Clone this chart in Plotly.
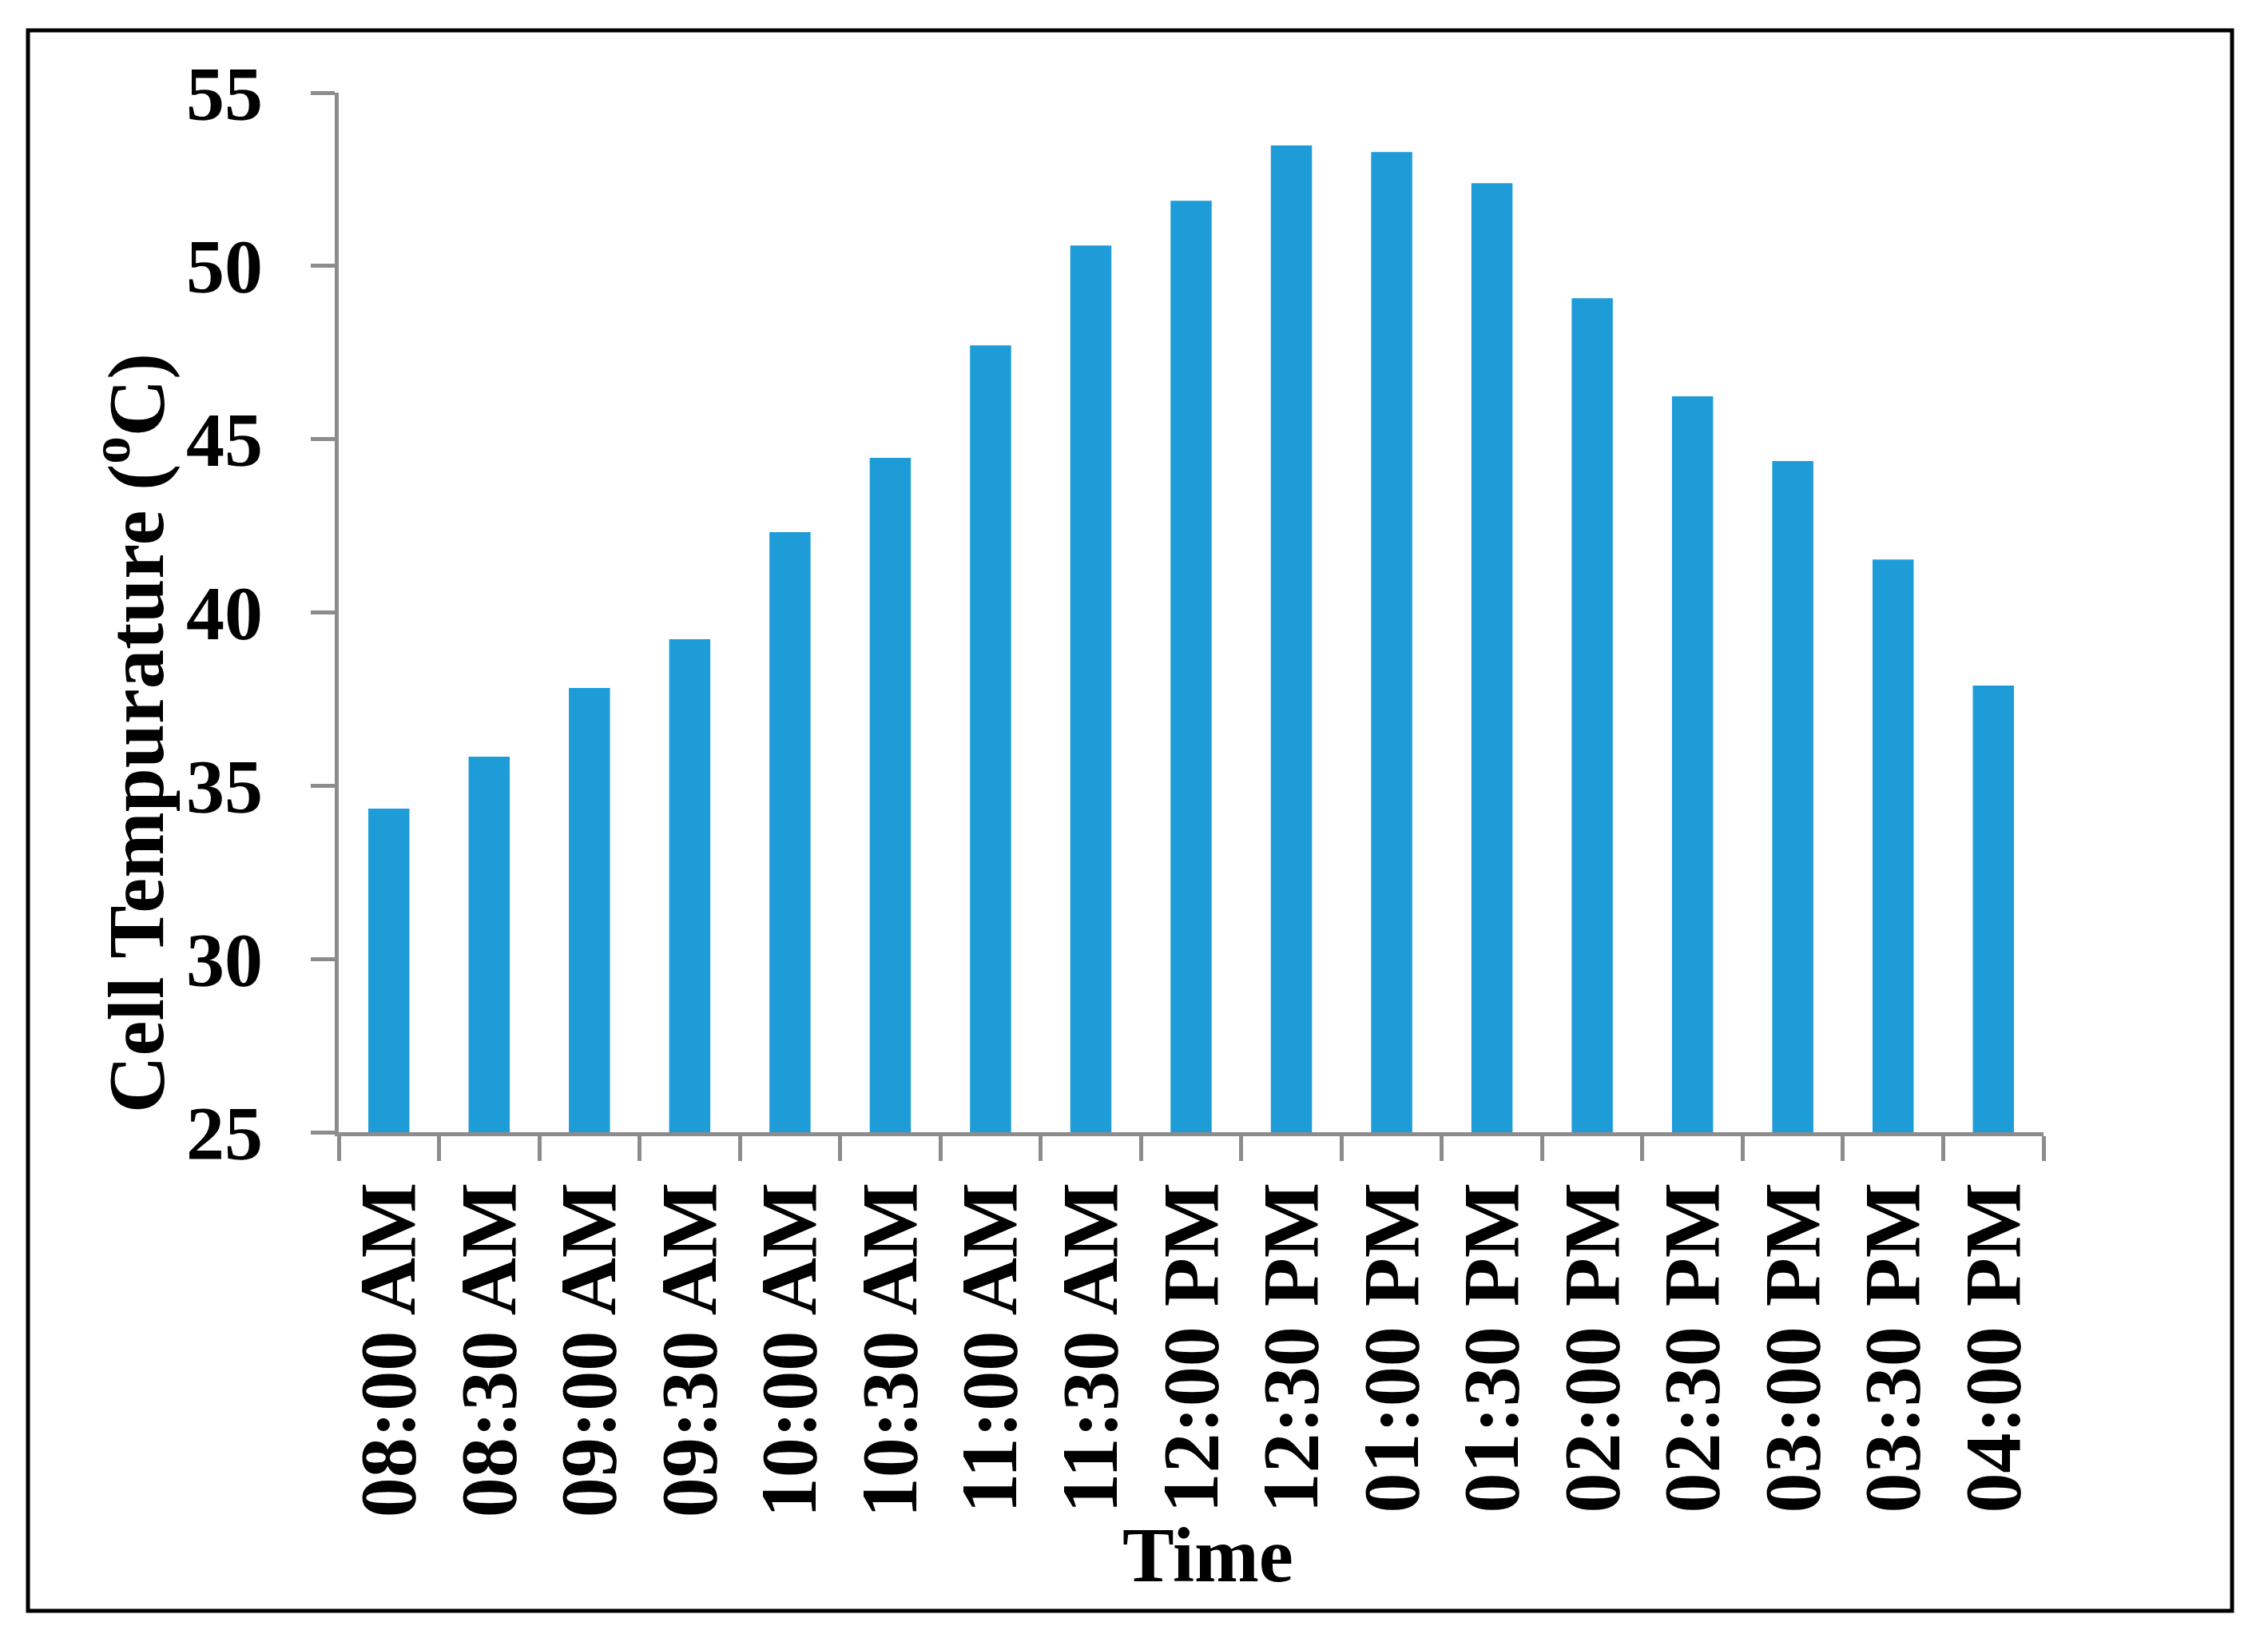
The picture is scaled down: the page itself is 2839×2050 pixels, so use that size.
import plotly.graph_objects as go

categories = ["08:00 AM", "08:30 AM", "09:00 AM", "09:30 AM", "10:00 AM", "10:30 AM",
              "11:00 AM", "11:30 AM", "12:00 PM", "12:30 PM", "01:00 PM", "01:30 PM",
              "02:00 PM", "02:30 PM", "03:00 PM", "03:30 PM", "04:00 PM"]
cell_temp = [34.34, 35.84, 37.82, 39.23, 42.32, 44.46, 47.71, 50.59, 51.88, 53.48,
             53.29, 52.39, 49.07, 46.24, 44.37, 41.53, 37.89]
y_ticks = [25, 30, 35, 40, 45, 50, 55]

OFF = 8                      # page body margin of the html
W, H = 2839 - 2 * OFF, 2050 - 2 * OFF
L, R, T, B = 424 - OFF, 2558 - OFF, 116 - OFF, 1417 - OFF   # plot area in figure pixels
pw, ph = R - L, B - T

def px_x(p):
    return (p - OFF - L) / pw

def px_y(p):
    return (B - (p - OFF)) / ph

FONT = "Liberation Serif, Times New Roman, serif"
AX = "#8c8c8c"

fig = go.Figure(go.Bar(x=categories, y=cell_temp, marker=dict(color="#1d9cd8", line=dict(width=0))))

fig.update_layout(
    width=W, height=H,
    margin=dict(l=L, r=W - R, t=T, b=H - B),
    paper_bgcolor="white", plot_bgcolor="white",
    bargap=0.59, showlegend=False,
    font=dict(family=FONT, color="black"),
)
fig.update_xaxes(
    type="category", range=[-0.5, len(categories) - 0.5],
    showline=True, linecolor=AX, linewidth=4.5,
    ticks="outside", ticklen=31, tickwidth=4.5, tickcolor=AX, tickson="boundaries",
    tickangle=-90, ticklabelstandoff=18,
    tickfont=dict(family=FONT, size=100, color="black", weight="bold"),
    showgrid=False, zeroline=False,
)
fig.update_yaxes(
    range=[25, 55], tickvals=y_ticks, ticktext=[str(v) for v in y_ticks],
    showline=True, linecolor=AX, linewidth=4.5,
    ticks="outside", ticklen=30, tickwidth=4.5, tickcolor=AX, ticklabelstandoff=41,
    tickfont=dict(family=FONT, size=96, color="black", weight="bold"),
    showgrid=False, zeroline=False,
)

fig.add_annotation(
    text="Cell Tempurature (<sup>o</sup>C)", textangle=-90,
    xref="paper", yref="paper", x=px_x(163), y=px_y(918),
    xanchor="center", yanchor="middle", showarrow=False,
    font=dict(family=FONT, size=99, color="black", weight="bold"),
)
fig.add_annotation(
    text="Time",
    xref="paper", yref="paper", x=px_x(1512), y=px_y(1946),
    xanchor="center", yanchor="middle", showarrow=False,
    font=dict(family=FONT, size=97, color="black", weight="bold"),
)

# outer frame
fig.add_shape(
    type="rect", xref="paper", yref="paper",
    x0=px_x(35), x1=px_x(2794), y0=px_y(2016), y1=px_y(38),
    line=dict(color="black", width=5), fillcolor="rgba(0,0,0,0)", layer="above",
)

fig.write_html("out.html")
